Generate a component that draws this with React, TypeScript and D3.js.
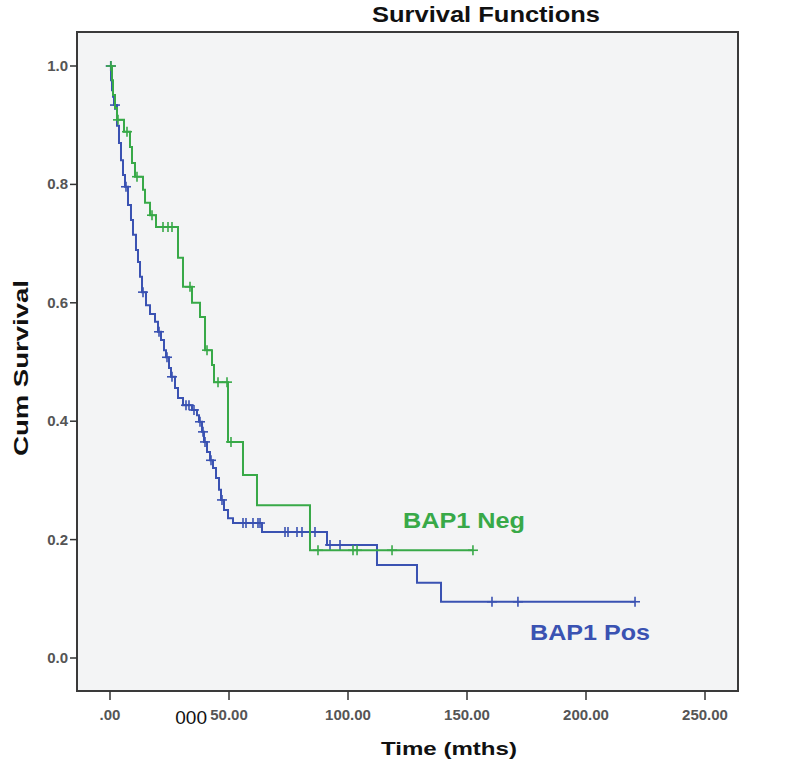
import React from "react";
import * as d3 from "d3";

// Kaplan-Meier steps: event times (months) and survival after each event
const posTimes = [0, 0.42, 0.84, 1.26, 1.68, 2.94, 3.78, 4.62, 5.46, 6.3, 7.56, 8.82, 9.66, 10.92, 11.76, 12.61, 13.45, 15.13, 16.81, 18.91, 20.17, 21.43, 22.69, 23.53, 24.79, 25.63, 27.31, 28.57, 30.67, 34.45, 36.55, 37.39, 38.66, 39.5, 40.76, 42.02, 43.28, 44.54, 45.8, 46.64, 47.9, 49.58, 51.68, 63.87, 91.18, 112.18, 128.99, 139.08];
const posSurv = [1.0, 0.976, 0.959, 0.948, 0.934, 0.899, 0.87, 0.841, 0.816, 0.796, 0.765, 0.74, 0.715, 0.689, 0.669, 0.644, 0.618, 0.596, 0.581, 0.568, 0.551, 0.537, 0.52, 0.508, 0.49, 0.475, 0.456, 0.439, 0.427, 0.419, 0.41, 0.399, 0.382, 0.365, 0.348, 0.334, 0.321, 0.304, 0.284, 0.267, 0.25, 0.236, 0.228, 0.213, 0.191, 0.157, 0.127, 0.095];
const posCensored = [0.3, 2.1, 6.72, 13.87, 20.59, 23.95, 26.05, 31.93, 33.19, 35.29, 37.82, 39.08, 39.92, 42.44, 47.06, 55.88, 57.14, 60.08, 62.18, 63.03, 73.53, 74.79, 78.57, 80.67, 86.13, 92.44, 96.64, 160.5, 171.4, 220.6];

const negTimes = [0, 0.84, 1.26, 2.1, 2.94, 5.88, 8.4, 9.24, 10.5, 13.87, 14.71, 16.81, 19.33, 28.57, 30.67, 34.45, 37.82, 39.92, 42.86, 43.7, 49.58, 55.88, 61.76, 84.03];
const negSurv = [1.0, 0.976, 0.951, 0.929, 0.909, 0.889, 0.863, 0.836, 0.813, 0.791, 0.769, 0.748, 0.728, 0.676, 0.627, 0.6, 0.576, 0.52, 0.495, 0.466, 0.365, 0.309, 0.258, 0.182];
const negCensored = [0.42, 3.36, 7.14, 11.34, 17.65, 22.27, 24.37, 26.05, 33.61, 40.76, 45.38, 49.16, 50.84, 87.39, 102.1, 103.8, 118.5, 152.5];

const xTicks = [0, 50, 100, 150, 200, 250];
const xTickLabels = [".00", "50.00", "100.00", "150.00", "200.00", "250.00"];
const yTicks = [0, 0.2, 0.4, 0.6, 0.8, 1.0];
const yTickLabels = ["0.0", "0.2", "0.4", "0.6", "0.8", "1.0"];

const GREEN = "#38a948";
const BLUE = "#3a52b2";

const survAt = (times: number[], surv: number[], t: number) => {
  let s = surv[0];
  for (let i = 0; i < times.length; i++) if (times[i] <= t) s = surv[i];
  return s;
};

const App: React.FC = () => {
  const frame = { left: 77, top: 32, right: 738, bottom: 691 };
  const x = d3.scaleLinear().domain([0, 250]).range([110, 705]);
  const y = d3.scaleLinear().domain([0, 1]).range([658, 66]);

  const line = d3
    .line<[number, number]>()
    .x((d) => x(d[0]))
    .y((d) => y(d[1]))
    .curve(d3.curveStepAfter);

  const series = [
    { times: posTimes, surv: posSurv, cens: posCensored, color: BLUE },
    { times: negTimes, surv: negSurv, cens: negCensored, color: GREEN },
  ];

  const font = "'Liberation Sans', Arial, sans-serif";

  return (
    <svg width={800} height={768} style={{ position: "absolute", left: 0, top: 0, background: "#fff" }}>
      <text x={486} y={22} textAnchor="middle" fontFamily={font} fontWeight="bold" fontSize={22} textLength={228} lengthAdjust="spacingAndGlyphs" fill="#111">
        Survival Functions
      </text>
      <rect x={frame.left} y={frame.top} width={frame.right - frame.left} height={frame.bottom - frame.top} fill="#f3f4f5" stroke="#3a3a3a" strokeWidth={2} />

      {yTicks.map((v, i) => (
        <g key={"y" + i}>
          <line x1={frame.left - 7} x2={frame.left} y1={y(v)} y2={y(v)} stroke="#333" strokeWidth={1.5} />
          <text x={frame.left - 9} y={y(v) + 5} textAnchor="end" fontFamily={font} fontWeight="bold" fontSize={15} fill="#555">
            {yTickLabels[i]}
          </text>
        </g>
      ))}
      {xTicks.map((v, i) => (
        <g key={"x" + i}>
          <line x1={x(v)} x2={x(v)} y1={frame.bottom} y2={frame.bottom + 9} stroke="#333" strokeWidth={1.5} />
          <text x={x(v)} y={720} textAnchor="middle" fontFamily={font} fontWeight="bold" fontSize={15} fill="#555">
            {xTickLabels[i]}
          </text>
        </g>
      ))}
      <text x={207} y={724} textAnchor="end" fontFamily={font} fontSize={19} fill="#111">
        000
      </text>

      <text transform="translate(28,368) rotate(-90)" textAnchor="middle" fontFamily={font} fontWeight="bold" fontSize={20} textLength={176} lengthAdjust="spacingAndGlyphs" fill="#111">
        Cum Survival
      </text>
      <text x={449} y={755} textAnchor="middle" fontFamily={font} fontWeight="bold" fontSize={19} textLength={136} lengthAdjust="spacingAndGlyphs" fill="#111">
        Time (mths)
      </text>

      {series.map((s, k) => {
        const end = s.cens[s.cens.length - 1];
        const pts: [number, number][] = s.times.map((t, i) => [t, s.surv[i]] as [number, number]);
        pts.push([end, s.surv[s.surv.length - 1]]);
        return (
          <g key={"s" + k}>
            <path d={line(pts) || ""} fill="none" stroke={s.color} strokeWidth={2} />
            {s.cens.map((t, j) => {
              const cx = x(t);
              const cy = y(survAt(s.times, s.surv, t));
              return (
                <g key={j} stroke={s.color} strokeWidth={1.6}>
                  <line x1={cx} x2={cx} y1={cy - 5} y2={cy + 5} />
                  <line x1={cx - 5} x2={cx + 5} y1={cy} y2={cy} />
                </g>
              );
            })}
          </g>
        );
      })}

      <text x={403} y={528} fontFamily={font} fontWeight="bold" fontSize={22} textLength={122} lengthAdjust="spacingAndGlyphs" fill={GREEN}>
        BAP1 Neg
      </text>
      <text x={530} y={640} fontFamily={font} fontWeight="bold" fontSize={22} textLength={120} lengthAdjust="spacingAndGlyphs" fill={BLUE}>
        BAP1 Pos
      </text>
    </svg>
  );
};

export default App;
